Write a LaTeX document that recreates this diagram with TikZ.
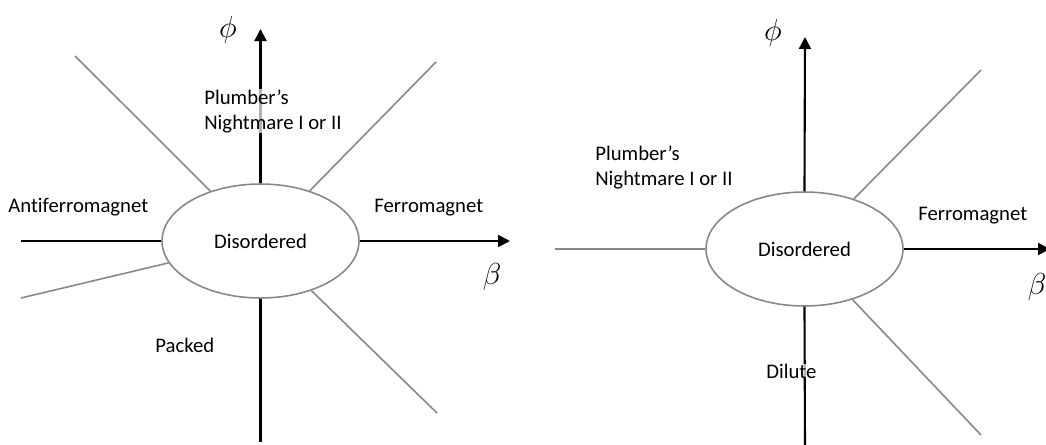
\documentclass[tikz,border=0pt]{standalone}
\usepackage{fontspec}
\setmainfont{Carlito}[Ligatures=NoCommon]
\usetikzlibrary{shapes.geometric,arrows.meta}
\definecolor{linegray}{RGB}{135,135,135}
\begin{document}
\begin{tikzpicture}[x=0.02cm,y=-0.02cm,
    every node/.style={font=\fontsize{11.8}{14.2}\selectfont,inner sep=0pt},
    axis/.style={black,line width=1.2pt},
    axisarrow/.style={axis,-{Triangle[length=0.24cm,width=0.24cm]}},
    boundary/.style={linegray,line width=0.9pt},
    region/.style={ellipse,draw=linegray,line width=0.9pt,minimum width=3.94cm,minimum height=2.28cm},
    phase/.style={anchor=base west,align=left},
    veil/.style={fill=white,fill opacity=.7,text opacity=1},
    greek/.style={font=\fontsize{18}{20}\selectfont}]
    \useasboundingbox (0,0) rectangle (1046,444);
    % left diagram
    \node[region] (dis) at (260.5,241) {Disordered};
    \coordinate (ul) at (75,56);
    \coordinate (ur) at (436,62);
    \coordinate (ll) at (21,298);
    \coordinate (lr) at (437,413);
    \coordinate (w) at (21,241);
    \coordinate (e) at (510,241);
    \coordinate (n) at (260.5,29);
    \coordinate (s) at (260.5,442);
    \foreach \pt in {ul,ur,ll,lr} {
        \draw[boundary] (\pt) -- (dis);
    }
    \draw[axis] (w) -- (dis.west);
    \draw[axis] (dis.south) -- (s);
    \draw[axisarrow] (dis.east) -- (e);
    \draw[axisarrow] (dis.north) -- (n);
    \node[greek] (phi) at (228,30) {$\phi$};
    \node[greek] (beta) at (492,277) {$\beta$};
    \node[phase,veil] (pn) at (204,129) {Plumber’s\\Nightmare I or II};
    \node[phase] (af) at (8,212) {Antiferromagnet};
    \node[phase] (fm) at (374,212) {Ferromagnet};
    \node[phase] (pk) at (155,352) {Packed};
    % right diagram
    \node[region] (dis2) at (804.5,249) {Disordered};
    \coordinate (ur2) at (981,70);
    \coordinate (lr2) at (981,435);
    \coordinate (w2) at (555,249);
    \coordinate (e2) at (1050,249);
    \coordinate (n2) at (805,37);
    \coordinate (s2) at (805,446);
    \foreach \pt in {ur2,lr2,w2} {
        \draw[boundary] (\pt) -- (dis2);
    }
    \draw[axis] (dis2.south) -- (s2);
    \draw[axisarrow] (dis2.east) -- (e2);
    \draw[axisarrow] (dis2.north) -- (n2);
    \node[greek] (phi2) at (773,33) {$\phi$};
    \node[greek] (beta2) at (1037,287) {$\beta$};
    \node[phase] (pn2) at (595,185.7) {Plumber’s\\Nightmare I or II};
    \node[phase] (fm2) at (918,220.7) {Ferromagnet};
    \node[phase,veil] (dl) at (766,378) {Dilute};
\end{tikzpicture}
\end{document}
